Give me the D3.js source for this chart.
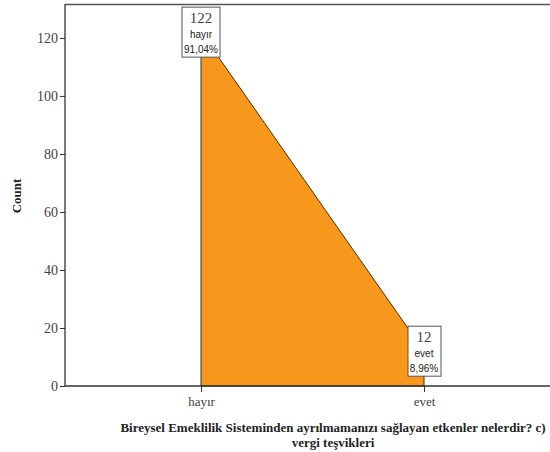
<!DOCTYPE html>
<html><head><meta charset="utf-8">
<script src="https://cdn.jsdelivr.net/npm/d3@7"></script>
<style>body{margin:0;background:#fff}svg{display:block}</style>
</head><body>
<svg id="c" width="550" height="452"></svg>
<script>
const categories = ["hayır", "evet"];
const counts = [122, 12];
const percents = ["91,04%", "8,96%"];
const yTicks = [0, 20, 40, 60, 80, 100, 120];
const xTitle = ["Bireysel Emeklilik Sisteminden ayrılmamanızı sağlayan etkenler nelerdir? c)", "vergi teşvikleri"];
const yTitle = "Count";

const svg = d3.select("#c");
const L = 65, T = 4, R = 550, B = 386;
const y = d3.scaleLinear().domain([0, 131.7]).range([B, T]);
const x = d3.scalePoint().domain(categories).range([201, 424]);
const data = categories.map((c, i) => ({c, v: counts[i], p: percents[i]}));

// area
const area = d3.area().x(d => x(d.c)).y0(y(0)).y1(d => y(d.v));
svg.append("path").datum(data).attr("d", area)
  .attr("fill", "#F7981D").attr("stroke", "#333").attr("stroke-width", 1);

// frame lines
svg.append("line").attr("x1", L).attr("x2", R).attr("y1", T + 0.5).attr("y2", T + 0.5).attr("stroke", "#555").attr("stroke-width", 1.5);
// axes
const ya = d3.axisLeft(y).tickValues(yTicks).tickSize(5).tickPadding(2);
const gy = svg.append("g").attr("transform", `translate(${L},0)`).call(ya);
gy.select(".domain").attr("d", `M0,${T}V${B}`).attr("stroke", "#333").attr("stroke-width", 1.3);
gy.selectAll(".tick line").attr("stroke", "#333");
gy.selectAll(".tick text").attr("font-family", "Liberation Serif, serif").attr("font-size", 14).attr("fill", "#444");

const xa = d3.axisBottom(x).tickSize(6).tickPadding(5);
const gx = svg.append("g").attr("transform", `translate(0,${B})`).call(xa);
gx.select(".domain").attr("d", `M${L},0H${R}`).attr("stroke", "#333").attr("stroke-width", 1.3);
gx.selectAll(".tick line").attr("stroke", "#333");
gx.selectAll(".tick text").attr("font-family", "Liberation Serif, serif").attr("font-size", 13).attr("fill", "#444");

// labels (boxes centred on the data points)
const lab = svg.append("g").selectAll("g").data(data).join("g")
  .attr("transform", d => `translate(${x(d.c)},${y(d.v)})`);
lab.append("rect").attr("x", d => d.v > 50 ? -19 : -16).attr("y", -25)
  .attr("width", d => d.v > 50 ? 38 : 33).attr("height", 50)
  .attr("fill", "#fff").attr("stroke", "#555").attr("stroke-width", 1);
lab.append("text").attr("y", -9).attr("text-anchor", "middle")
  .attr("font-family", "Liberation Serif, serif").attr("font-size", 15).attr("fill", "#444").text(d => d.v);
lab.append("text").attr("y", 6).attr("text-anchor", "middle")
  .attr("font-family", "Liberation Sans, Arial, sans-serif").attr("font-size", 10).attr("fill", "#222").text(d => d.c);
lab.append("text").attr("y", 21).attr("text-anchor", "middle")
  .attr("font-family", "Liberation Sans, Arial, sans-serif").attr("font-size", 10).attr("fill", "#222").text(d => d.p);

// titles
svg.append("text").attr("x", 333).attr("y", 432).attr("text-anchor", "middle")
  .attr("font-family", "Liberation Serif, serif").attr("font-weight", "bold").attr("font-size", 13).attr("fill", "#222").text(xTitle[0]);
svg.append("text").attr("x", 333).attr("y", 447).attr("text-anchor", "middle")
  .attr("font-family", "Liberation Serif, serif").attr("font-weight", "bold").attr("font-size", 13).attr("fill", "#222").text(xTitle[1]);
svg.append("text").attr("transform", "translate(21,196) rotate(-90)").attr("text-anchor", "middle")
  .attr("font-family", "Liberation Serif, serif").attr("font-weight", "bold").attr("font-size", 13).attr("fill", "#222").text(yTitle);
</script>
</body></html>
